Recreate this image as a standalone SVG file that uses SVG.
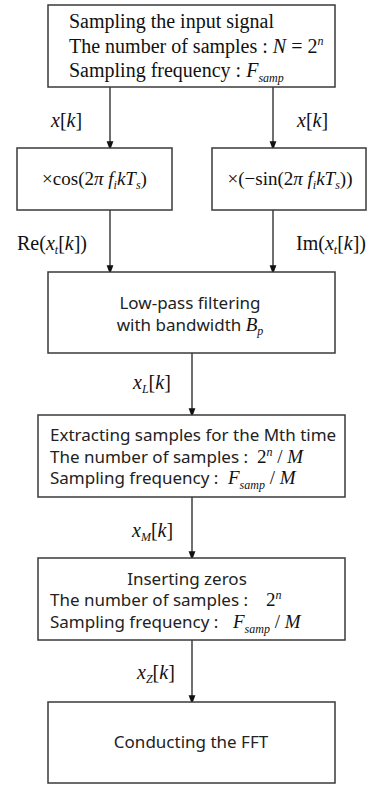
<svg xmlns="http://www.w3.org/2000/svg" width="374" height="785" viewBox="0 0 374 785">
<style>
.box{fill:#fff;stroke:#3a3a3a;stroke-width:1.5}
.ser{font-family:"Liberation Serif","Times New Roman",serif;font-size:20px;fill:#111}
.m19{font-size:19px}
.san{font-family:"Noto Sans","Open Sans",sans-serif;font-size:17px;fill:#222}
.it{font-style:italic}
.sm{font-size:12px}
.con{stroke:#222;stroke-width:1.3;fill:none}
</style>
<defs>
<marker id="ah" markerWidth="9" markerHeight="12" refX="9" refY="4.5" orient="auto" markerUnits="userSpaceOnUse" viewBox="0 0 12 9">
<path d="M0,0 L12,4.5 L0,9 Z" fill="#111"/>
</marker>
</defs>
<rect width="374" height="785" fill="#fff"/>
<g id="connectors">
<line class="con" x1="110" y1="87" x2="110" y2="148" marker-end="url(#ah)"/>
<line class="con" x1="273" y1="87" x2="273" y2="148" marker-end="url(#ah)"/>
<line class="con" x1="110" y1="210" x2="110" y2="272" marker-end="url(#ah)"/>
<line class="con" x1="273" y1="210" x2="273" y2="272" marker-end="url(#ah)"/>
<line class="con" x1="192" y1="353" x2="192" y2="415" marker-end="url(#ah)"/>
<line class="con" x1="192" y1="497" x2="192" y2="558" marker-end="url(#ah)"/>
<line class="con" x1="192" y1="640" x2="192" y2="702" marker-end="url(#ah)"/>
<text class="ser" x="51" y="127"><tspan class="it">x</tspan>[<tspan class="it">k</tspan>]</text>
<text class="ser" x="297" y="127"><tspan class="it">x</tspan>[<tspan class="it">k</tspan>]</text>
<text class="ser" x="17" y="250">Re(<tspan class="it">x</tspan><tspan class="it sm" dy="4">t</tspan><tspan dy="-4">[</tspan><tspan class="it">k</tspan>])</text>
<text class="ser" x="296" y="250">Im(<tspan class="it">x</tspan><tspan class="it sm" dy="4">t</tspan><tspan dy="-4">[</tspan><tspan class="it">k</tspan>])</text>
<text class="ser" x="133" y="389"><tspan class="it">x</tspan><tspan class="it sm" dy="4">L</tspan><tspan dy="-4">[</tspan><tspan class="it">k</tspan>]</text>
<text class="ser" x="132" y="537"><tspan class="it">x</tspan><tspan class="it sm" dy="4">M</tspan><tspan dy="-4">[</tspan><tspan class="it">k</tspan>]</text>
<text class="ser" x="137" y="679"><tspan class="it">x</tspan><tspan class="it sm" dy="4">Z</tspan><tspan dy="-4">[</tspan><tspan class="it">k</tspan>]</text>
</g>
<g id="sampling">
<rect class="box" x="48" y="5" width="287" height="82"/>
<text class="ser" x="69" y="28">Sampling the input signal</text>
<text class="ser" x="69" y="53">The number of samples : <tspan class="it">N</tspan> = 2<tspan class="it sm" dy="-8">n</tspan></text>
<text class="ser" x="69" y="77">Sampling frequency : <tspan class="it">F</tspan><tspan class="it sm" dy="5">samp</tspan></text>
</g>
<g id="cos">
<rect class="box" x="17" y="148" width="155" height="62"/>
<text class="ser m19" x="94.5" y="185" text-anchor="middle">×cos(2<tspan class="it">π f</tspan><tspan class="it sm" dy="4">i</tspan><tspan class="it" dy="-4">kT</tspan><tspan class="it sm" dy="4">s</tspan><tspan dy="-4">)</tspan></text>
</g>
<g id="sin">
<rect class="box" x="212" y="148" width="154" height="62"/>
<text class="ser m19" x="290" y="185" text-anchor="middle">×(−sin(2<tspan class="it">π f</tspan><tspan class="it sm" dy="4">i</tspan><tspan class="it" dy="-4">kT</tspan><tspan class="it sm" dy="4">s</tspan><tspan dy="-4">))</tspan></text>
</g>
<g id="lpf">
<rect class="box" x="48" y="272" width="287" height="81"/>
<text class="san" x="190" y="309" text-anchor="middle">Low-pass filtering</text>
<text class="san" x="190" y="331" text-anchor="middle">with bandwidth <tspan class="ser m19 it">B</tspan><tspan class="ser it sm" dy="4">p</tspan></text>
</g>
<g id="extract">
<rect class="box" x="38" y="415" width="307" height="82"/>
<text class="san" x="50" y="441">Extracting samples for the Mth time</text>
<text class="san" x="50" y="463">The number of samples : <tspan class="ser m19" x="257">2</tspan><tspan class="ser it sm" dy="-7">n</tspan><tspan class="ser m19" dy="7"> / </tspan><tspan class="ser m19 it">M</tspan></text>
<text class="san" x="50" y="484">Sampling frequency : <tspan class="ser m19 it" x="228">F</tspan><tspan class="ser it sm" dy="5">samp</tspan><tspan class="ser m19" dy="-5"> / </tspan><tspan class="ser m19 it">M</tspan></text>
</g>
<g id="zeros">
<rect class="box" x="38" y="558" width="307" height="82"/>
<text class="san" x="187" y="585" text-anchor="middle">Inserting zeros</text>
<text class="san" x="50" y="606">The number of samples : <tspan class="ser m19" x="266">2</tspan><tspan class="ser it sm" dy="-7">n</tspan></text>
<text class="san" x="50" y="628">Sampling frequency : <tspan class="ser m19 it" x="233">F</tspan><tspan class="ser it sm" dy="5">samp</tspan><tspan class="ser m19" dy="-5"> / </tspan><tspan class="ser m19 it">M</tspan></text>
</g>
<g id="fft">
<rect class="box" x="48" y="702" width="287" height="81"/>
<text class="san" x="191" y="748" text-anchor="middle">Conducting the FFT</text>
</g>
</svg>
